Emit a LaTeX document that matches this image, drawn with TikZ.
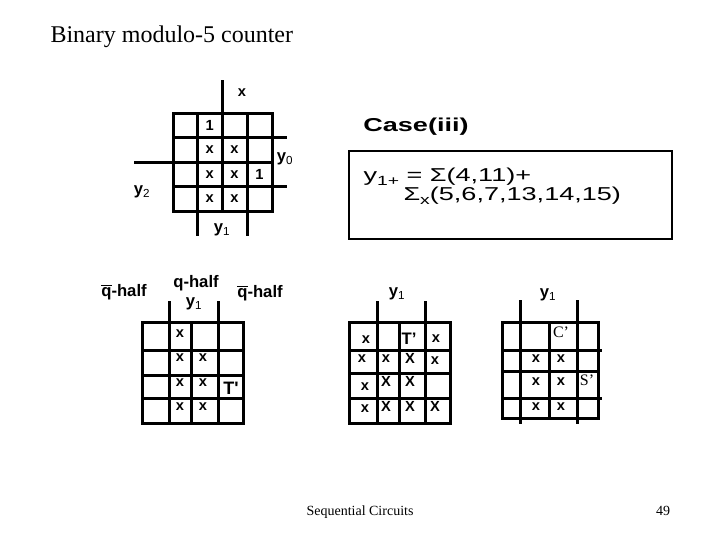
\documentclass[tikz,border=0pt]{standalone}
\usepackage{fontspec}
\setmainfont{Liberation Serif}
\newfontfamily\hv{Liberation Sans}
\newfontfamily\hvwide[FakeStretch=1.45]{Liberation Sans}

\tikzset{every picture/.style={line width=0.75pt}}
\tikzset{
	kgrid/.style={line width=2.25pt},
	kcell/.style={inner sep=0.75pt, font=\hv\bfseries\fontsize{11}{13}\selectfont},
	klabel/.style={inner sep=0.75pt, font=\hv\bfseries\fontsize{12.5}{14}\selectfont},
	kprime/.style={inner sep=0.75pt, font=\fontsize{12}{14}\selectfont},
	sumtext/.style={anchor=west, inner sep=0pt, font=\hvwide\fontsize{14}{16}\selectfont},
}
\newcommand{\sumsub}[1]{\raisebox{-0.35ex}{\fontsize{10}{11}\selectfont #1}}

\begin{document}
\begin{tikzpicture}[x=0.75pt,y=0.75pt,yscale=-1,xscale=1]
		\useasboundingbox (0,0) rectangle (720,540);

		% Text Node
		\draw (50,42) node [anchor=base west][inner sep=0pt][font=\fontsize{18}{22}\selectfont] (title) {Binary modulo-5 counter};

		%Shape: Rectangle (top map)
		\draw [kgrid]  (173,113) -- (272,113) -- (272,211) -- (173,211) -- cycle ;
		%Straight Lines
		\draw [kgrid]  (197.5,113) -- (197.5,236) ;
		%Straight Lines
		\draw [kgrid]  (222,80) -- (222,211) ;
		%Straight Lines
		\draw [kgrid]  (247,113) -- (247,236) ;
		%Straight Lines
		\draw [kgrid]  (173,137.5) -- (287,137.5) ;
		%Straight Lines
		\draw [kgrid]  (134,162) -- (272,162) ;
		%Straight Lines
		\draw [kgrid]  (173,186.5) -- (287,186.5) ;

		% Text Node
		\draw (242,93) node [kcell] (topx) {x};
		% Text Node
		\draw (209.75,125.25) node [kcell] (topone) {1};
		% Text Node
		\draw (209.75,149.75) node [kcell] (topxa) {x};
		% Text Node
		\draw (234.5,149.75) node [kcell] (topxb) {x};
		% Text Node
		\draw (209.75,174.25) node [kcell] (topxc) {x};
		% Text Node
		\draw (234.5,174.25) node [kcell] (topxd) {x};
		% Text Node
		\draw (259.5,174.25) node [kcell] (toponeb) {1};
		% Text Node
		\draw (209.75,198.75) node [kcell] (topxe) {x};
		% Text Node
		\draw (234.5,198.75) node [kcell] (topxf) {x};
		% Text Node
		\draw (285,159) node [klabel] (topyzero) {y\textsubscript{\mdseries 0}};
		% Text Node
		\draw (142,192) node [klabel] (topytwo) {y\textsubscript{\mdseries 2}};
		% Text Node
		\draw (222,230) node [klabel] (topyone) {y\textsubscript{\mdseries 1}};

		% Text Node
		\draw (416,127) node [inner sep=0.75pt][font=\hvwide\bfseries\fontsize{14}{16}\selectfont] (caseiii) {Case(iii)};
		%Shape: Rectangle
		\draw [line width=1.5pt]  (349,151) -- (672,151) -- (672,239) -- (349,239) -- cycle ;
		% Text Node
		\draw (363,177) node [sumtext] (sumone) {y\sumsub{1+} = Σ(4,11)+};
		% Text Node
		\draw (403,196) node [sumtext] (sumx) {Σ\sumsub{x}(5,6,7,13,14,15)};

		%Shape: Rectangle (left map)
		\draw [kgrid]  (142,322) -- (243,322) -- (243,423) -- (142,423) -- cycle ;
		%Straight Lines
		\draw [kgrid]  (169,301) -- (169,423) ;
		%Straight Lines
		\draw [kgrid]  (191,322) -- (191,423) ;
		%Straight Lines
		\draw [kgrid]  (218,301) -- (218,423) ;
		%Straight Lines
		\draw [kgrid]  (142,350) -- (243,350) ;
		%Straight Lines
		\draw [kgrid]  (142,375) -- (243,375) ;
		%Straight Lines
		\draw [kgrid]  (142,398) -- (243,398) ;

		% Text Node
		\draw (124,292) node [klabel] (qbarleft) {$\overline{\mbox{q}}$-half};
		% Text Node
		\draw (196,283) node [klabel] (qhalf) {q-half};
		% Text Node
		\draw (194,304) node [klabel] (lefty) {y\textsubscript{\mdseries 1}};
		% Text Node
		\draw (260,293) node [klabel] (qbarright) {$\overline{\mbox{q}}$-half};
		% Text Node
		\draw (180,334) node [kcell] (leftxa) {x};
		% Text Node
		\draw (180,358) node [kcell] (leftxb) {x};
		% Text Node
		\draw (203,358) node [kcell] (leftxc) {x};
		% Text Node
		\draw (180,383) node [kcell] (leftxd) {x};
		% Text Node
		\draw (203,383) node [kcell] (leftxe) {x};
		% Text Node
		\draw (231,388) node [klabel][font=\hv\bfseries\fontsize{13.5}{15}\selectfont] (leftt) {T'};
		% Text Node
		\draw (180,407) node [kcell] (leftxf) {x};
		% Text Node
		\draw (203,407) node [kcell] (leftxg) {x};

		%Shape: Rectangle (middle map)
		\draw [kgrid]  (349,322) -- (450,322) -- (450,423) -- (349,423) -- cycle ;
		%Straight Lines
		\draw [kgrid]  (377,301) -- (377,425) ;
		%Straight Lines
		\draw [kgrid]  (399,322) -- (399,423) ;
		%Straight Lines
		\draw [kgrid]  (425,301) -- (425,425) ;
		%Straight Lines
		\draw [kgrid]  (349,350) -- (450,350) ;
		%Straight Lines
		\draw [kgrid]  (349,373) -- (450,373) ;
		%Straight Lines
		\draw [kgrid]  (349,398) -- (450,398) ;

		% Text Node
		\draw (397,294) node [klabel] (midy) {y\textsubscript{\mdseries 1}};
		% Text Node
		\draw (366,340) node [kcell] (midxa) {x};
		% Text Node
		\draw (409,339) node [klabel] (midt) {T’};
		% Text Node
		\draw (436,339) node [kcell] (midxb) {x};
		% Text Node
		\draw (362,359) node [kcell] (midxc) {x};
		% Text Node
		\draw (386,359) node [kcell] (midxd) {x};
		% Text Node
		\draw (410,358) node [kcell] (midxe) {X};
		% Text Node
		\draw (435,361) node [kcell] (midxf) {x};
		% Text Node
		\draw (365,387) node [kcell] (midxg) {x};
		% Text Node
		\draw (386,381) node [kcell] (midxh) {X};
		% Text Node
		\draw (410,381) node [kcell] (midxi) {X};
		% Text Node
		\draw (365,409) node [kcell] (midxj) {x};
		% Text Node
		\draw (386,406) node [kcell] (midxk) {X};
		% Text Node
		\draw (410,406) node [kcell] (midxl) {X};
		% Text Node
		\draw (435,406) node [kcell] (midxm) {X};

		%Shape: Rectangle (right map)
		\draw [kgrid]  (502,322) -- (598,322) -- (598,418) -- (502,418) -- cycle ;
		%Straight Lines
		\draw [kgrid]  (520,300) -- (520,424) ;
		%Straight Lines
		\draw [kgrid]  (549,322) -- (549,418) ;
		%Straight Lines
		\draw [kgrid]  (577,300) -- (577,424) ;
		%Straight Lines
		\draw [kgrid]  (502,350) -- (602,350) ;
		%Straight Lines
		\draw [kgrid]  (502,371) -- (598,371) ;
		%Straight Lines
		\draw [kgrid]  (502,398) -- (602,398) ;

		% Text Node
		\draw (548,295) node [klabel] (righty) {y\textsubscript{\mdseries 1}};
		% Text Node
		\draw (561,332) node [kprime] (rightc) {C'};
		% Text Node
		\draw (587,380) node [kprime] (rights) {S'};
		% Text Node
		\draw (536,359) node [kcell] (rightxa) {x};
		% Text Node
		\draw (561,359) node [kcell] (rightxb) {x};
		% Text Node
		\draw (536,382) node [kcell] (rightxc) {x};
		% Text Node
		\draw (561,382) node [kcell] (rightxd) {x};
		% Text Node
		\draw (536,407) node [kcell] (rightxe) {x};
		% Text Node
		\draw (561,407) node [kcell] (rightxf) {x};

		% Text Node
		\draw (360,515) node [anchor=base][inner sep=0pt][font=\fontsize{10.5}{12}\selectfont] (footer) {Sequential Circuits};
		% Text Node
		\draw (663,515) node [anchor=base][inner sep=0pt][font=\fontsize{10.5}{12}\selectfont] (pageno) {49};
	\end{tikzpicture}
\end{document}
